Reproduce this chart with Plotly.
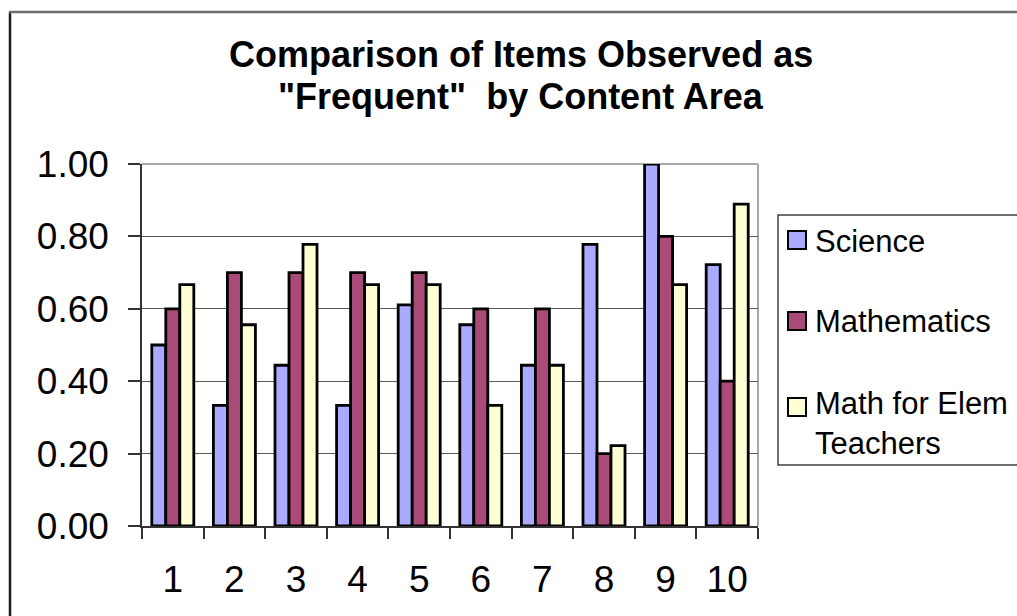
import plotly.graph_objects as go

# ---- data ----
items = ["1", "2", "3", "4", "5", "6", "7", "8", "9", "10"]
series_names = ["Science", "Mathematics", "Math for Elem Teachers"]
legend_labels = ["Science", "Mathematics", "Math for Elem<br>Teachers"]
science = [0.500, 0.333, 0.444, 0.333, 0.611, 0.556, 0.444, 0.778, 1.000, 0.722]
mathematics = [0.60, 0.70, 0.70, 0.70, 0.70, 0.60, 0.60, 0.20, 0.80, 0.40]
math_elem = [0.667, 0.556, 0.778, 0.667, 0.667, 0.333, 0.444, 0.222, 0.667, 0.889]
y_ticks = [0.0, 0.2, 0.4, 0.6, 0.8, 1.0]
y_tick_labels = ["0.00", "0.20", "0.40", "0.60", "0.80", "1.00"]
title_lines = ["Comparison of Items Observed as", "\"Frequent\"\u00a0 by Content Area"]
colors = ["#AAAAFF", "#A94A78", "#FFFFD4"]

# ---- page geometry (pixels) ----
W, H = 1017, 616
L, R, T, B = 142, 259, 164, 90
PW, PH = W - L - R, H - T - B
FONT = "Liberation Sans, Arial, sans-serif"


def px_x(px):
    return (px - L) / PW


def px_y(py):
    return (H - B - py) / PH


fig = go.Figure()
for name, vals, col in zip(series_names, [science, mathematics, math_elem], colors):
    fig.add_trace(go.Bar(
        x=items, y=vals, name=name,
        marker=dict(color=col, line=dict(color="black", width=2.8)),
        showlegend=False,
    ))

shapes = []
annotations = []

# outer chart frame (left and top edges)
shapes.append(dict(type="line", xref="paper", yref="paper",
                   x0=px_x(10), x1=px_x(10), y0=px_y(12), y1=px_y(H + 20),
                   line=dict(color="#1e1e1e", width=2.5)))
shapes.append(dict(type="line", xref="paper", yref="paper",
                   x0=px_x(9), x1=px_x(W + 20), y0=px_y(12), y1=px_y(12),
                   line=dict(color="#6e6e6e", width=2.5)))

# plot-area frame (top and right edges)
shapes.append(dict(type="line", xref="paper", yref="paper", layer="between",
                   x0=0, x1=1, y0=1, y1=1, line=dict(color="#a8a8a8", width=2)))
shapes.append(dict(type="line", xref="paper", yref="paper", layer="between",
                   x0=1, x1=1, y0=0, y1=1, line=dict(color="#a8a8a8", width=2)))

# title
for line, cy in zip(title_lines, [55, 97]):
    annotations.append(dict(
        text="<b>" + line + "</b>", xref="paper", yref="paper",
        x=px_x(521), y=px_y(cy), xanchor="center", yanchor="middle",
        showarrow=False, font=dict(family=FONT, size=36, color="black"),
    ))

# legend box
shapes.append(dict(type="rect", xref="paper", yref="paper",
                   x0=px_x(778), x1=px_x(W + 30), y0=px_y(465), y1=px_y(215),
                   line=dict(color="#404040", width=1.5), fillcolor="white"))
for label, col, cy, ty in zip(legend_labels, colors, [240, 321, 407], [241, 321, 423]):
    shapes.append(dict(type="rect", xref="paper", yref="paper",
                       x0=px_x(788), x1=px_x(806), y0=px_y(cy + 9), y1=px_y(cy - 9),
                       line=dict(color="black", width=2), fillcolor=col))
    annotations.append(dict(
        text=label, xref="paper", yref="paper", x=px_x(813), y=px_y(ty),
        xanchor="left", yanchor="middle", align="left", showarrow=False,
        font=dict(family=FONT, size=31, color="black"),
    ))

fig.update_layout(
    width=W, height=H,
    margin=dict(l=L, r=R, t=T, b=B, pad=0),
    paper_bgcolor="white", plot_bgcolor="white",
    barmode="group", bargap=0.318, bargroupgap=0,
    shapes=shapes, annotations=annotations,
    showlegend=False,
    xaxis=dict(
        type="category", tickson="boundaries", ticks="outside", ticklen=11,
        tickwidth=1.5, tickcolor="#333333",
        showline=True, linecolor="#333333", linewidth=1.5,
        showgrid=False, ticklabelstandoff=20,
        tickfont=dict(family=FONT, size=37, color="black"),
    ),
    yaxis=dict(
        range=[0, 1], tickvals=y_ticks, ticktext=y_tick_labels,
        ticks="outside", ticklen=12, tickwidth=1.5, tickcolor="#333333",
        showline=True, linecolor="#333333", linewidth=1.5,
        showgrid=True, gridcolor="#5a5a5a", gridwidth=1,
        zeroline=False, ticklabelstandoff=12,
        tickfont=dict(family=FONT, size=37, color="black"),
    ),
)

fig.write_html("out.html")
